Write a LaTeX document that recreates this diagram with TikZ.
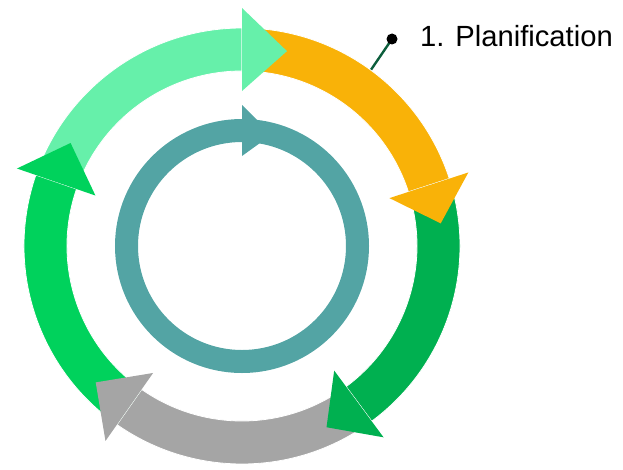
\documentclass[tikz,border=0pt]{standalone}
\usepackage{fontspec}
\setmainfont{Liberation Sans}
\definecolor{mint}{RGB}{102,240,170}
\definecolor{amber}{RGB}{249,178,8}
\definecolor{leafgreen}{RGB}{0,176,80}
\definecolor{stone}{RGB}{165,165,165}
\definecolor{grass}{RGB}{0,210,92}
\definecolor{teal}{RGB}{83,164,164}
\definecolor{pin}{RGB}{12,94,60}
\begin{document}
\begin{tikzpicture}[x=1pt,y=1pt,
    band/.style={fill=#1,draw=white,line width=0.8pt},
    head/.style={fill=#1},
    lead/.style={draw=pin,line width=2.4pt}]
\useasboundingbox (-242,-223) rectangle (381,246);
% leader under the ring
\draw[lead] (150,207) coordinate (dot) -- (107,144) coordinate (foot);
\fill[pin] (dot) circle (5.5);
% outer bands
\foreach \c/\a/\b in {mint/161/90,amber/90/18,leafgreen/18/-53.5,stone/-53.5/-125,grass/-125/-199}
    \filldraw[band=\c] (\a:218) arc[start angle=\a,end angle=\b,radius=218]
        -- (\b:175) arc[start angle=\b,end angle=\a,radius=175] -- cycle;
% heads on top
\foreach \c/\b/\t in {mint/90/77,amber/18/6.5,leafgreen/-53.5/-65,stone/-125/-137,grass/-199/-211}
    \fill[head=\c] (\b:155) -- (\b:238) -- (\t:200) -- cycle;
% inner ring
\draw[teal,line width=23pt] (0,0) circle (115.5);
\fill[teal] (90:90) -- (90:141) -- (75:115.5) -- cycle;
\node[anchor=base west,inner sep=0pt,font=\fontsize{29.2}{35}\selectfont] (plan) at (178,199) {1. Planification};
\end{tikzpicture}
\end{document}
